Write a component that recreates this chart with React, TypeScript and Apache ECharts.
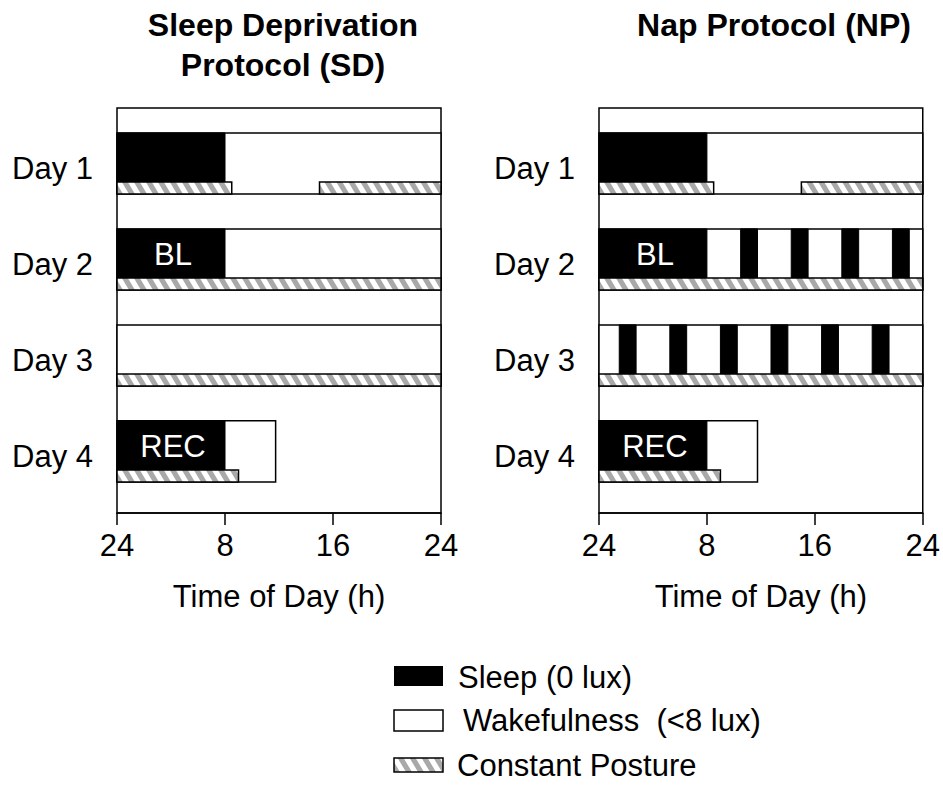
import React, { useEffect, useRef } from "react";
import * as echarts from "echarts";

const FONT = '"Liberation Sans", Arial, Helvetica, sans-serif';

// ---- data (hours of day 0..24, day index 1..4) ----
const dayLabels = ["Day 1", "Day 2", "Day 3", "Day 4"];
const xTickLabels = ["24", "8", "16", "24"];

const sdWake = [[1, 0, 24], [2, 0, 24], [3, 0, 24], [4, 0, 11.75]];
const sdSleep = [[1, 0, 8], [2, 0, 8], [4, 0, 8]];
const sdSleepText = ["", "BL", "REC"];
const sdPosture = [[1, 0, 8.5], [1, 15, 24], [2, 0, 24], [3, 0, 24], [4, 0, 9]];

const npWake = [[1, 0, 24], [2, 0, 24], [3, 0, 24], [4, 0, 11.75]];
const npSleep = [
  [1, 0, 8],
  [2, 0, 8], [2, 10.5, 11.75], [2, 14.25, 15.5], [2, 18, 19.25], [2, 21.75, 23],
  [3, 1.5, 2.75], [3, 5.25, 6.5], [3, 9, 10.25], [3, 12.75, 14], [3, 16.5, 17.75], [3, 20.25, 21.5],
  [4, 0, 8],
];
const npSleepText = ["", "BL", "", "", "", "", "", "", "", "", "", "", "REC"];
const npPosture = [[1, 0, 8.5], [1, 15, 24], [2, 0, 24], [3, 0, 24], [4, 0, 9]];

const legendItems = ["Sleep (0 lux)", "Wakefulness  (<8 lux)", "Constant Posture"];
const titles = ["Sleep Deprivation\nProtocol (SD)", "Nap Protocol (NP)"];
const xName = "Time of Day (h)";

// ---- layout constants (offsets relative to day value) ----
const TOP = -0.37;
const MID = 0.141;
const BOT = 0.266;
const HATCH = "#a9a9a9";

function clipPoly(pts: number[][], edge: number, keepGreater: boolean) {
  const out: number[][] = [];
  const inside = (p: number[]) => (keepGreater ? p[0] >= edge : p[0] <= edge);
  const inter = (p: number[], q: number[]) => {
    const t = (edge - p[0]) / (q[0] - p[0]);
    return [edge, p[1] + t * (q[1] - p[1])];
  };
  for (let i = 0; i < pts.length; i++) {
    const cur = pts[i];
    const prev = pts[(i + pts.length - 1) % pts.length];
    const ci = inside(cur);
    const pi = inside(prev);
    if (ci) {
      if (!pi) out.push(inter(prev, cur));
      out.push(cur);
    } else if (pi) {
      out.push(inter(prev, cur));
    }
  }
  return out;
}

function hatchPolys(x0: number, y0: number, x1: number, y1: number) {
  const P = 12;
  const w = 6;
  const h = y1 - y0;
  const s = h * 0.6;
  const polys: number[][][] = [];
  for (let a = x0 - s - P; a < x1; a += P) {
    let pts = [
      [a, y0],
      [a + w, y0],
      [a + w + s, y1],
      [a + s, y1],
    ];
    pts = clipPoly(pts, x0, true);
    if (pts.length < 3) continue;
    pts = clipPoly(pts, x1, false);
    if (pts.length < 3) continue;
    polys.push(pts);
  }
  return polys;
}

function hatchGroup(x0: number, y0: number, x1: number, y1: number) {
  const children: any[] = [
    { type: "rect", shape: { x: x0, y: y0, width: x1 - x0, height: y1 - y0 }, style: { fill: "#fff" } },
  ];
  hatchPolys(x0, y0, x1, y1).forEach((pts) => {
    children.push({ type: "polygon", shape: { points: pts }, style: { fill: HATCH } });
  });
  children.push({
    type: "rect",
    shape: { x: x0, y: y0, width: x1 - x0, height: y1 - y0 },
    style: { fill: "none", stroke: "#000", lineWidth: 1.5 },
  });
  return children;
}

function renderWake(params: any, api: any) {
  const d = api.value(0);
  const p0 = api.coord([api.value(1), d + TOP]);
  const p1 = api.coord([api.value(2), d + BOT]);
  return {
    type: "rect",
    shape: { x: p0[0], y: p0[1], width: p1[0] - p0[0], height: p1[1] - p0[1] },
    style: { fill: "#fff", stroke: "#000", lineWidth: 1.5 },
  };
}

function makeSleepRender(texts: string[]) {
  return (params: any, api: any) => {
    const d = api.value(0);
    const p0 = api.coord([api.value(1), d + TOP]);
    const p1 = api.coord([api.value(2), d + MID]);
    const children: any[] = [
      {
        type: "rect",
        shape: { x: p0[0], y: p0[1], width: p1[0] - p0[0], height: p1[1] - p0[1] },
        style: { fill: "#000", stroke: "#000", lineWidth: 1 },
      },
    ];
    const t = texts[params.dataIndex];
    if (t) {
      children.push({
        type: "text",
        style: {
          text: t,
          x: (p0[0] + p1[0]) / 2 + 2,
          y: (p0[1] + p1[1]) / 2 + 1,
          fill: "#fff",
          font: `31px ${FONT}`,
          align: "center",
          verticalAlign: "middle",
          textAlign: "center",
          textVerticalAlign: "middle",
        },
      });
    }
    return { type: "group", children };
  };
}

function renderPosture(params: any, api: any) {
  const d = api.value(0);
  const p0 = api.coord([api.value(1), d + MID]);
  const p1 = api.coord([api.value(2), d + BOT]);
  return { type: "group", children: hatchGroup(p0[0], p0[1], p1[0], p1[1]) };
}

function panelSeries(idx: number, wake: number[][], sleep: number[][], texts: string[], posture: number[][]) {
  const base = { type: "custom", xAxisIndex: idx, yAxisIndex: idx, encode: { x: [1, 2], y: 0 }, silent: true };
  return [
    { ...base, name: "wake" + idx, z: 2, data: wake, renderItem: renderWake },
    { ...base, name: "sleep" + idx, z: 3, data: sleep, renderItem: makeSleepRender(texts) },
    { ...base, name: "posture" + idx, z: 4, data: posture, renderItem: renderPosture },
  ];
}

function xAxisFor(idx: number) {
  return {
    gridIndex: idx,
    type: "value",
    min: 0,
    max: 24,
    interval: 8,
    axisLine: { show: true, lineStyle: { color: "#000", width: 1.5 } },
    axisTick: { show: true, length: 12, lineStyle: { color: "#000", width: 1.5 } },
    splitLine: { show: false },
    axisLabel: {
      fontSize: 31,
      color: "#000",
      margin: 17,
      fontFamily: FONT,
      formatter: (v: number) => xTickLabels[Math.round(v / 8)],
    },
    name: xName,
    nameLocation: "middle",
    nameGap: 68,
    nameTextStyle: { fontSize: 31, color: "#000", fontFamily: FONT },
  };
}

function yAxisFor(idx: number) {
  return {
    gridIndex: idx,
    type: "value",
    inverse: true,
    min: 0.37,
    max: 4.59,
    axisLine: { show: false },
    axisTick: { show: false },
    splitLine: { show: false },
    axisLabel: {
      customValues: [1, 2, 3, 4],
      fontSize: 31,
      color: "#000",
      margin: 24,
      fontFamily: FONT,
      formatter: (v: number) => dayLabels[Math.round(v) - 1],
    },
  };
}

function legendGraphics() {
  const els: any[] = [];
  els.push({ type: "rect", shape: { x: 394, y: 666, width: 49, height: 20 }, style: { fill: "#000" } });
  els.push({ type: "rect", shape: { x: 394, y: 710, width: 49, height: 21 }, style: { fill: "#fff", stroke: "#000", lineWidth: 1.5 } });
  hatchGroup(394, 758, 443, 772).forEach((c) => els.push(c));
  const tx = [458, 463, 457];
  const ty = [677, 720, 765];
  legendItems.forEach((t, i) => {
    els.push({
      type: "text",
      style: {
        text: t,
        x: tx[i],
        y: ty[i],
        fill: "#000",
        font: `31px ${FONT}`,
        align: "left",
        verticalAlign: "middle",
        textAlign: "left",
        textVerticalAlign: "middle",
      },
    });
  });
  return els;
}

function titleGraphics() {
  return [
    {
      type: "text",
      style: {
        text: titles[0],
        x: 283,
        y: 45,
        fill: "#000",
        font: `bold 32px ${FONT}`,
        lineHeight: 40,
        align: "center",
        verticalAlign: "middle",
        textAlign: "center",
        textVerticalAlign: "middle",
      },
    },
    {
      type: "text",
      style: {
        text: titles[1],
        x: 774,
        y: 25,
        fill: "#000",
        font: `bold 32px ${FONT}`,
        align: "center",
        verticalAlign: "middle",
        textAlign: "center",
        textVerticalAlign: "middle",
      },
    },
  ];
}

export default function App() {
  const ref = useRef<HTMLDivElement>(null);
  useEffect(() => {
    if (!ref.current) return;
    const chart = echarts.init(ref.current, null, { renderer: "svg", width: 943, height: 785 });
    const gridBase = { top: 108, width: 324, height: 405, show: true, borderColor: "#000", borderWidth: 1.5, backgroundColor: "transparent", containLabel: false };
    chart.setOption({
      animation: false,
      backgroundColor: "#fff",
      textStyle: { fontFamily: FONT, color: "#000" },
      grid: [
        { ...gridBase, left: 117 },
        { ...gridBase, left: 599 },
      ],
      xAxis: [xAxisFor(0), xAxisFor(1)],
      yAxis: [yAxisFor(0), yAxisFor(1)],
      series: [
        ...panelSeries(0, sdWake, sdSleep, sdSleepText, sdPosture),
        ...panelSeries(1, npWake, npSleep, npSleepText, npPosture),
      ],
      graphic: [...titleGraphics(), ...legendGraphics()],
    } as any);
    return () => chart.dispose();
  }, []);
  return (
    <div
      ref={ref}
      style={{ position: "fixed", left: 0, top: 0, width: 943, height: 785, background: "#fff" }}
    />
  );
}
